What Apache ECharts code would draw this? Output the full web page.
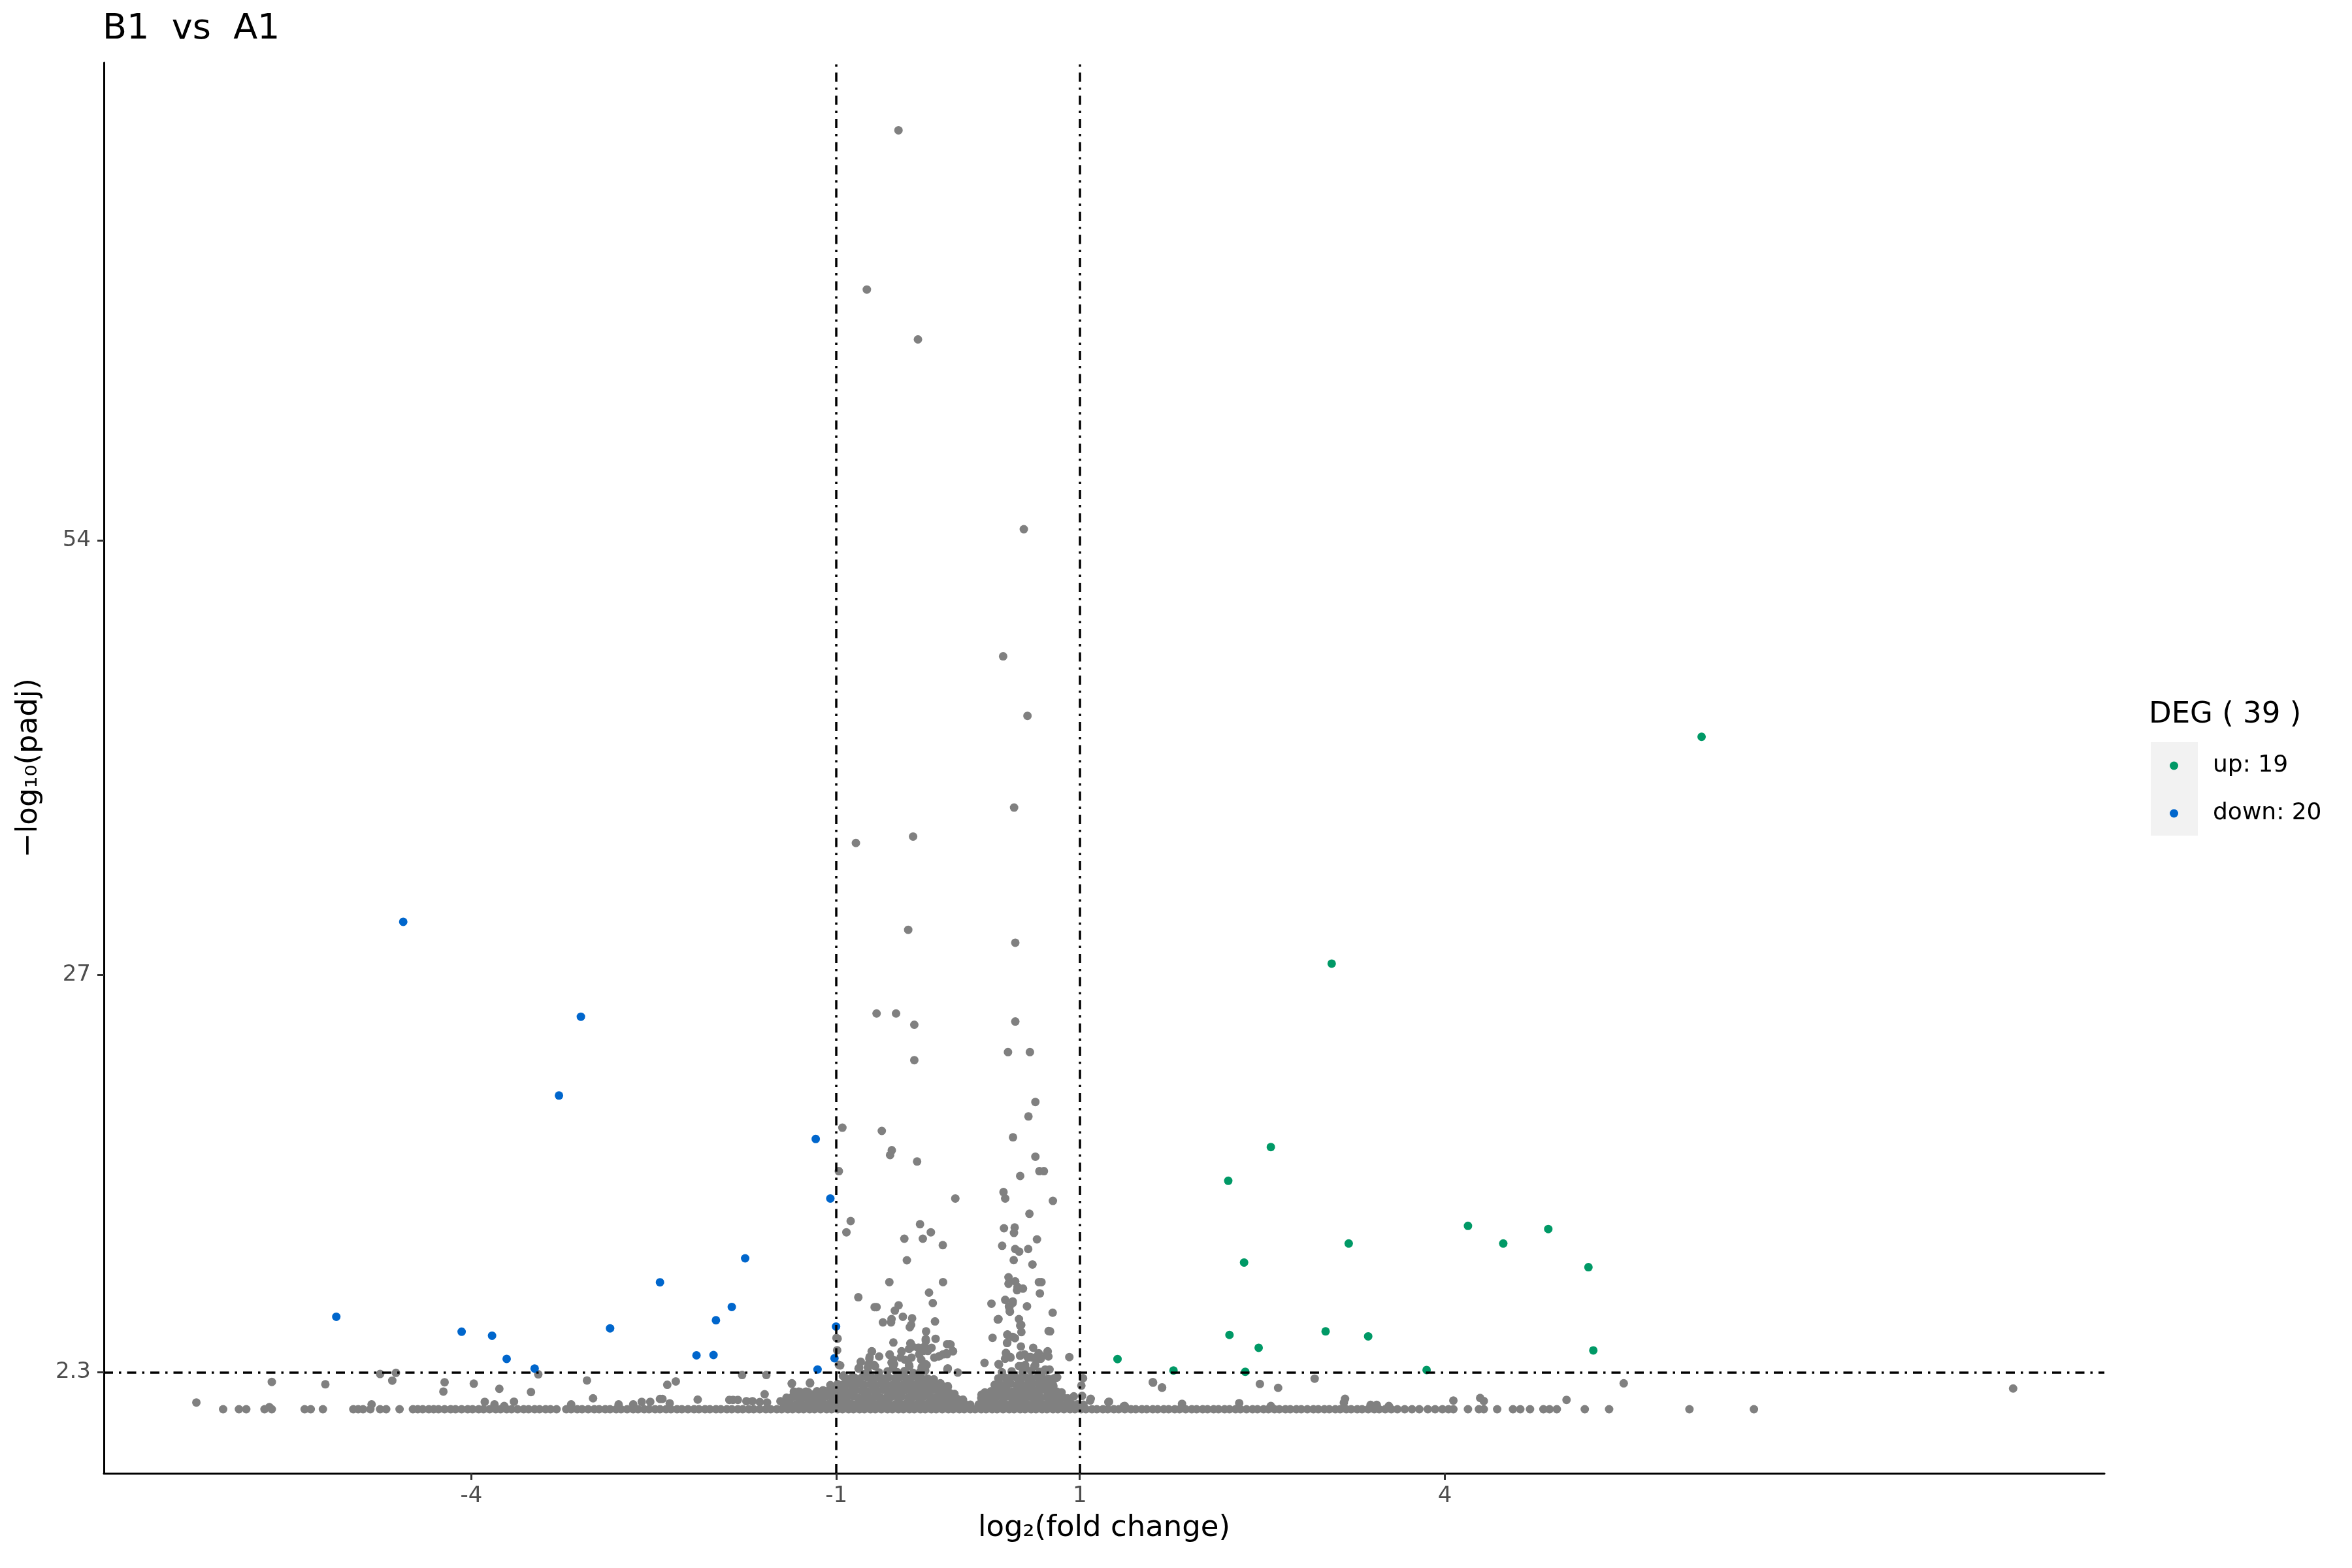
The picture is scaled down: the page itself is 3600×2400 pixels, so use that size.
<!DOCTYPE html>
<html>
<head>
<meta charset="utf-8">
<script src="https://cdn.jsdelivr.net/npm/echarts@6/dist/echarts.min.js"></script>
<style>html,body{margin:0;padding:0;background:#fff}#main{width:3600px;height:2400px}</style>
</head>
<body>
<div id="main"></div>
<script>
// ---------- DATA ----------
const titleText = 'B1  vs  A1';
const legendTitle = 'DEG ( 39 )';
const upName = 'up: 19';
const downName = 'down: 20';
const xTicks = [-4, -1, 1, 4];
const yTicks = [2.3, 27, 54];
const log2fcCut = [-1, 1];
const padjCut = 2.3;

// significantly up-regulated genes [log2FC, -log10(padj)]
const upPoints = [
  [6.11,41.8],[3.07,27.7],[2.57,16.3],[2.22,14.2],[4.19,11.4],[4.85,11.2],[4.48,10.3],
  [3.21,10.3],[2.35,9.12],[5.18,8.83],[2.23,4.62],[3.02,4.84],[3.37,4.53],[5.22,3.66],
  [2.47,3.82],[1.31,3.12],[1.77,2.41],[2.36,2.33],[3.85,2.44]
];
// significantly down-regulated genes
const downPoints = [
  [-4.56,30.3],[-3.10,24.4],[-3.28,19.5],[-1.17,16.8],[-1.05,13.1],[-1.75,9.38],[-2.45,7.89],
  [-5.11,5.75],[-1.86,6.36],[-1.99,5.53],[-4.08,4.82],[-3.83,4.57],[-2.86,5.03],[-1.003,5.14],
  [-3.71,3.13],[-2.15,3.35],[-2.01,3.37],[-3.48,2.53],[-1.155,2.47],[-1.016,3.17]
];
// not significant: genes with padj = 1 (-log10 = 0), log2FC values
const baseX = [
  -6.04,-5.91,-5.85,-5.70,-5.64,-5.37,-5.32,-5.22,-4.97,-4.93,-4.89,-4.83,-4.75,-4.70,-4.59,-4.48,-4.44,-4.40,-4.35,-4.31,-4.27,-4.22,
  -4.17,-4.13,-4.08,-4.03,-3.99,-3.94,-3.90,-3.85,-3.80,-3.76,-3.71,-3.67,-3.62,-3.57,-3.53,-3.48,-3.44,-3.39,-3.35,-3.30,-3.22,-3.18,
  -3.13,-3.09,-3.04,-2.99,-2.95,-2.90,-2.86,-2.81,-2.77,-2.72,-2.67,-2.63,-2.58,-2.54,-2.49,-2.45,-2.40,-2.36,-2.31,-2.27,-2.22,-2.17,
  -2.13,-2.08,-2.04,-1.99,-1.95,-1.90,-1.86,-1.81,-1.77,-1.72,-1.68,-1.63,-1.58,-1.54,-1.49,-1.45,-1.40,-1.36,-1.31,-1.27,-1.22,-1.18,
  -1.13,-1.08,-1.04,-0.99,-0.95,-0.90,-0.86,-0.81,-0.77,-0.72,-0.68,-0.63,-0.58,-0.54,-0.49,-0.45,-0.40,-0.36,-0.31,-0.27,-0.22,-0.18,
  -0.13,-0.08,-0.04,0.01,0.05,0.10,0.14,0.19,0.23,0.28,0.32,0.37,0.42,0.46,0.51,0.55,0.60,0.64,0.69,0.73,0.78,0.82,0.87,0.92,0.96,
  1.01,1.05,1.10,1.14,1.19,1.23,1.28,1.32,1.37,1.42,1.46,1.51,1.55,1.60,1.64,1.69,1.73,1.78,1.82,1.87,1.92,1.96,2.01,2.05,2.10,2.14,
  2.19,2.23,2.28,2.32,2.37,2.42,2.46,2.51,2.55,2.60,2.64,2.69,2.73,2.78,2.82,2.87,2.92,2.96,3.01,3.05,3.10,3.14,3.19,3.23,3.28,3.32,
  3.37,3.42,3.46,3.51,3.56,3.61,3.67,3.73,3.79,3.86,3.92,3.98,4.03,4.07,4.19,4.28,4.32,4.43,4.56,4.62,4.70,4.81,4.86,4.92,5.15,5.35,
  6.01,6.54
];
// not significant, low scattered points (left side)
const lowLeft = [
  [-6.26,0.42],[-5.66,0.13],[-5.64,1.70],[-5.20,1.55],[-4.82,0.3],[-4.75,2.19],[-4.62,2.26],[-4.65,1.78],[-4.23,1.1],[-4.22,1.68],
  [-3.98,1.59],[-3.89,0.46],[-3.77,1.27],[-3.65,0.47],[-3.51,1.07],[-3.45,2.17],[-3.81,0.3],[-3.73,0.2],[-3.05,1.79],[-3.0,0.68],
  [-3.18,0.3],[-2.79,0.3],[-2.67,0.3],[-2.60,0.46],[-2.53,0.46],[-2.45,0.64],[-2.43,0.64],[-2.37,0.37],[-2.39,1.52],[-2.32,1.73],
  [-2.14,0.6],[-1.88,0.58],[-1.85,0.58],[-1.81,0.58],[-1.775,2.13],[-1.74,0.5],[-1.69,0.5],[-1.63,0.45],[-1.57,0.42],[-1.576,2.13],
  [-1.59,0.93],[-1.46,0.5],[-1.366,1.61],[-1.217,1.65],[-1.35,1.1],[-1.31,1.1],[-1.36,0.77],[-1.25,1.1],[-1.24,0.77],[-1.26,0.77],
  [-1.20,0.9],[-1.16,0.57],[-1.08,1.04],[-1.04,1.25],[-1.0,1.38],[-0.98,1.25]
];
// not significant, low scattered points (right side)
const lowRight = [
  [0.81,1.96],[0.78,1.49],[1.09,0.65],[1.24,0.47],[1.37,0.2],[1.60,1.69],[1.676,1.36],[1.84,0.34],[2.31,0.38],[2.48,1.57],
  [2.63,1.33],[2.57,0.2],[2.93,1.90],[3.18,0.65],[3.17,0.41],[3.39,0.27],[3.44,0.27],[3.54,0.2],[4.07,0.54],[4.29,0.70],
  [4.32,0.51],[5.0,0.58],[5.47,1.61],[8.67,1.29]
];
// dense cloud of non-significant genes, log2FC < 0 side
const massLeft = [
  [-1.42,0.33],[-1.38,0.36],[-1.33,0.31],[-1.29,0.38],[-1.24,0.32],[-1.2,0.36],[-1.15,0.3],[-1.11,0.37],[-1.06,0.33],[-1.02,0.35],
  [-0.97,0.31],[-0.93,0.38],[-0.88,0.34],[-0.84,0.3],[-0.79,0.37],[-0.75,0.33],[-0.7,0.36],[-0.66,0.31],[-0.61,0.38],[-0.57,0.34],
  [-0.52,0.3],[-0.48,0.37],[-0.43,0.33],[-0.39,0.36],[-0.34,0.31],[-0.3,0.38],[-0.25,0.34],[-0.21,0.3],[-0.16,0.37],[-0.12,0.33],
  [-0.07,0.36],[-0.03,0.31],[0.02,0.35],[0.06,0.3],[0.1,0.28],
  [-1.41,0.72],[-1.36,0.78],[-1.31,0.74],[-1.27,0.8],[-1.22,0.71],[-1.18,0.77],[-1.13,0.73],[-1.09,0.79],[-1.04,0.75],[-1.0,0.72],
  [-0.95,0.78],[-0.91,0.74],[-0.86,0.8],[-0.82,0.71],[-0.77,0.77],[-0.73,0.73],[-0.68,0.79],[-0.64,0.75],[-0.59,0.72],[-0.55,0.78],
  [-0.5,0.74],[-0.46,0.8],[-0.41,0.71],[-0.37,0.77],[-0.32,0.73],[-0.28,0.79],[-0.23,0.75],[-0.19,0.72],[-0.14,0.78],[-0.1,0.74],
  [-0.05,0.7],[-0.01,0.66],[0.04,0.6],
  [-1.3,1.08],[-1.16,1.12],[-1.11,1.18],[-1.06,1.14],[-1.02,1.2],[-0.97,1.11],[-0.93,1.17],[-0.88,1.13],[-0.84,1.19],[-0.79,1.15],
  [-0.75,1.12],[-0.7,1.18],[-0.66,1.14],[-0.61,1.2],[-0.57,1.11],[-0.52,1.17],[-0.48,1.13],[-0.43,1.19],[-0.39,1.15],[-0.34,1.12],
  [-0.3,1.18],[-0.25,1.14],[-0.21,1.2],[-0.16,1.11],[-0.12,1.08],[-0.07,1.02],[-0.03,0.95],
  [-1.05,1.5],[-0.99,1.56],[-0.95,1.52],[-0.9,1.58],[-0.86,1.54],[-0.81,1.6],[-0.77,1.51],[-0.72,1.57],[-0.68,1.53],[-0.63,1.59],
  [-0.59,1.55],[-0.54,1.52],[-0.5,1.58],[-0.45,1.54],[-0.41,1.6],[-0.36,1.51],[-0.32,1.57],[-0.27,1.53],[-0.23,1.59],[-0.18,1.5],
  [-0.14,1.45],
  [-0.92,1.9],[-0.85,1.96],[-0.8,1.92],[-0.75,1.98],[-0.7,1.94],[-0.66,2.0],[-0.61,1.91],[-0.57,1.97],[-0.52,1.93],[-0.48,1.99],
  [-0.43,1.95],[-0.39,1.92],[-0.34,1.98],[-0.3,1.94],[-0.25,1.9],[-0.2,1.86],
  [-0.74,2.32],[-0.65,2.28],[-0.58,2.36],[-0.5,2.3],[-0.44,2.38],[-0.37,2.26],[-0.31,2.34],[-0.27,2.4]
];
// dense cloud of non-significant genes, log2FC > 0 side
const massRight = [
  [0.17,0.3],[0.21,0.36],[0.26,0.32],[0.3,0.38],[0.35,0.34],[0.39,0.31],[0.44,0.37],[0.48,0.33],[0.53,0.36],[0.57,0.31],
  [0.62,0.38],[0.66,0.34],[0.71,0.3],[0.75,0.37],[0.8,0.33],[0.84,0.36],[0.89,0.31],[0.93,0.35],[0.98,0.3],[1.03,0.28],
  [0.19,0.7],[0.23,0.76],[0.28,0.72],[0.32,0.78],[0.37,0.74],[0.41,0.8],[0.46,0.71],[0.5,0.77],[0.55,0.73],[0.59,0.79],
  [0.64,0.75],[0.68,0.72],[0.73,0.78],[0.77,0.74],[0.82,0.7],[0.86,0.76],[0.9,0.68],
  [0.22,1.05],[0.27,1.12],[0.31,1.18],[0.36,1.14],[0.4,1.2],[0.45,1.11],[0.49,1.17],[0.54,1.13],[0.58,1.19],[0.63,1.15],
  [0.67,1.12],[0.72,1.18],[0.76,1.14],[0.81,1.1],[0.85,1.05],
  [0.3,1.52],[0.34,1.58],[0.39,1.54],[0.43,1.6],[0.48,1.51],[0.52,1.57],[0.57,1.53],[0.61,1.59],[0.66,1.55],[0.7,1.52],[0.75,1.48],
  [0.33,1.92],[0.38,1.98],[0.42,1.94],[0.47,2.0],[0.51,1.91],[0.56,1.97],[0.6,1.93],[0.65,1.99],[0.69,1.95],[0.74,1.9],
  [0.36,2.3],[0.44,2.36],[0.53,2.28],[0.6,2.38],[0.67,2.32]
];
// non-significant points scattered above the cloud (|log2FC| < 1)
const grayMid = [
  [0.635,19.1],[0.578,18.2],[-0.951,17.5],[-0.627,17.3],[0.451,16.9],[-0.545,16.1],[-0.559,15.8],[-0.337,15.4],[0.635,15.7],
  [0.668,14.8],[0.705,14.8],[-0.98,14.8],[0.51,14.5],[0.373,13.5],[0.387,13.1],[-0.023,13.1],[0.779,12.95],[0.586,12.15],
  [-0.883,11.7],[-0.918,11.0],[-0.313,11.5],[-0.224,11.0],[-0.442,10.6],[-0.29,10.6],[-0.126,10.2],[0.377,11.25],[0.465,11.3],
  [0.459,10.96],[0.648,10.56],[0.362,10.16],[0.469,9.96],[0.502,9.8],[0.576,9.96],[-0.421,9.26],[0.457,9.27],[0.611,9.0],
  [-0.565,7.9],[-0.124,7.9],[0.414,8.2],[0.414,7.8],[0.469,7.95],[0.488,7.6],[0.484,7.4],[0.533,7.5],[0.664,7.9],[0.685,7.9],
  [0.672,7.2],[-0.239,7.25],[-0.82,6.96],[0.387,6.8],[0.449,6.7],[0.418,6.4],[0.424,6.1],[0.274,6.56],[0.566,6.4],[0.777,6.0],
  [-0.208,6.6],[-0.686,6.35],[-0.67,6.35],[-0.489,6.46],[-0.52,6.13],[-0.454,5.75],[-0.378,5.65],[-0.386,5.25],[-0.397,5.1],
  [-0.618,5.4],[-0.547,5.6],[-0.551,5.4],[-0.19,5.46],[0.332,5.6],[0.5,5.6],[0.51,5.2],[0.52,4.8],[0.744,4.86],[-0.263,4.84],
  [0.283,4.44],[0.406,4.65],[0.449,4.5],[0.467,4.42],[-0.185,4.38],[-0.532,4.15],[-0.99,4.39],[0.402,4.12],[-0.069,4.04],
  [-0.091,4.04],[0.516,3.9],[0.617,3.82],[-0.39,4.1],[-0.265,4.25],[-0.71,3.6],[-0.465,3.6],[-0.403,3.75],[-0.321,3.82],
  [-0.28,3.68],[-0.218,3.82],[-0.042,3.6],[-0.994,3.67],[0.914,3.24],[0.736,3.6],[0.726,3.37],[-0.727,3.25],[-0.649,3.28],
  [-0.563,3.37],[-0.153,3.3],[-0.091,3.42],[0.393,3.5],[0.428,3.25],[0.51,3.32],[0.592,3.25],[0.644,3.25],[0.217,2.88],
  [-0.8,2.95],[-0.969,2.72],[0.336,2.78],[0.5,2.68],[0.551,2.75],[0.634,2.75],[-0.813,2.58],[-0.742,2.61],[-0.69,2.75],
  [-0.547,2.9],[-0.536,2.54],[-0.403,2.75],[-0.3,2.61],[-0.259,2.75],[-0.085,2.54],[0.716,2.47],[-0.941,2.1],[-0.877,1.95],
  [-0.776,2.18],[-0.003,2.28],[1.027,1.93],[1.013,1.47],[0.808,1.97],[0.777,1.75],[0.783,1.43],[-0.146,1.61],[-0.085,1.44],
  [-1.367,1.58],[-1.217,1.61],[1.602,1.65],[1.676,1.33],[1.019,0.83],[0.951,0.8],[1.085,0.54],[1.235,0.44],[1.362,0.19],
  [-1.347,1.04],[-1.234,1.07],[-1.193,0.9],[-1.06,1.18],[-1.04,0.9],[0.192,0.9],
  [-0.392,4.09],[-0.374,3.89],[-0.266,4.36],[-0.276,3.89],[-0.062,4.02],[-0.33,3.82],[-0.285,3.62],[-0.464,3.59],[-0.562,3.41],
  [-0.708,3.59],[-0.729,3.14],[-0.738,2.8],[-0.683,2.67],[-0.818,2.53],[-0.535,3.08],[-0.526,2.8],[-0.473,3.21],[-0.437,3.08],
  [-0.401,2.67],[-0.383,3.21],[-0.32,3.41],[-0.303,3.08],[-0.267,2.8],[-0.249,3.62],[-0.196,3.21],[-0.16,3.28],[-0.124,3.41],
  [-0.097,3.48],[-0.044,3.62],[-0.088,2.47],[-0.946,2.06],[-1.0,4.43],[-0.98,2.76],
  [0.448,6.6],[0.421,6.33],[0.426,6.06],[0.326,5.58],[0.519,5.24],[0.756,4.84],[0.404,4.63],[0.404,4.13],[0.662,3.48],
  [0.733,3.55],[0.742,3.28],[0.395,3.48],[0.386,3.14],[0.431,3.21],[0.51,3.35],[0.546,3.41],[0.573,3.21],[0.609,3.21],
  [0.645,3.08],[0.68,3.14],[0.332,2.8],[0.519,2.67],[0.555,2.53],[0.627,2.67],[0.716,2.4],[0.751,2.47],[0.787,1.92],
  [0.814,1.99],[0.751,1.59],[-0.144,1.59],[-0.084,1.38]
];
// non-significant genes with very small padj but |log2FC| < 1
const grayHigh = [
  [-0.49,79.5],[-0.75,69.6],[-0.33,66.5],[0.54,54.7],[0.37,46.8],[0.57,43.1],[-0.84,35.2],[-0.37,35.6],[0.46,37.4],
  [-0.41,29.8],[0.47,29.0],[-0.67,24.6],[-0.51,24.6],[-0.36,23.9],[0.47,24.1],[-0.36,21.7],[0.41,22.2],[0.59,22.2]
];

// ---------- CHART ----------
const FONT = 'DejaVu Sans';
const grayPoints = baseX.map(x => [x, 0])
  .concat(lowLeft, lowRight, massLeft, massRight, grayMid, grayHigh);

const chart = echarts.init(document.getElementById('main'), null, {renderer: 'canvas'});
const option = {
  backgroundColor: '#ffffff',
  animation: false,
  title: [
    {text: titleText, left: 157, top: 18, padding: 0,
     textStyle: {fontFamily: FONT, fontSize: 54, fontWeight: 'normal', color: '#000'}},
    {text: legendTitle, left: 3289, top: 1072, padding: 0,
     textStyle: {fontFamily: FONT, fontSize: 45, fontWeight: 'normal', color: '#000'}}
  ],
  graphic: [
    {type: 'rect', left: 3292, top: 1136, shape: {width: 72, height: 143}, style: {fill: '#F2F2F2'}, z: 0, silent: true}
  ],
  legend: {
    orient: 'vertical', left: 3321, top: 1154, padding: 0,
    itemWidth: 13, itemHeight: 13, itemGap: 37, icon: 'circle', selectedMode: false,
    data: [upName, downName],
    textStyle: {fontFamily: FONT, fontSize: 36, lineHeight: 36, color: '#000', padding: [0, 0, 0, 48]}
  },
  grid: {left: 159, right: 379, top: 96, bottom: 145, containLabel: false},
  xAxis: {
    type: 'value', min: -7.02, max: 9.42,
    splitLine: {show: false},
    axisLine: {onZero: false, lineStyle: {color: '#000', width: 3}},
    axisTick: {customValues: xTicks, length: 10, lineStyle: {color: '#333', width: 3}},
    axisLabel: {customValues: xTicks, margin: 18, fontFamily: FONT, fontSize: 34, color: '#4D4D4D'},
    name: 'log₂(fold change)', nameLocation: 'middle', nameGap: 62,
    nameTextStyle: {fontFamily: FONT, fontSize: 45, color: '#000'}
  },
  yAxis: {
    type: 'value', min: -3.98, max: 83.7,
    splitLine: {show: false},
    axisLine: {onZero: false, lineStyle: {color: '#000', width: 3}},
    axisTick: {customValues: yTicks, length: 10, lineStyle: {color: '#333', width: 3}},
    axisLabel: {customValues: yTicks, margin: 20, fontFamily: FONT, fontSize: 34, color: '#4D4D4D'},
    name: '−log₁₀(padj)', nameLocation: 'middle', nameGap: 92, nameRotate: 90,
    nameTextStyle: {fontFamily: FONT, fontSize: 45, color: '#000'}
  },
  series: [
    {
      name: 'normal', type: 'scatter', data: grayPoints, symbolSize: 13,
      itemStyle: {color: '#808080', opacity: 1}, silent: true,
      markLine: {
        silent: true, symbol: 'none', label: {show: false}, animation: false,
        lineStyle: {color: '#000', width: 3.5, type: [14, 9, 3.5, 9]},
        emphasis: {disabled: true},
        data: [{xAxis: log2fcCut[0]}, {xAxis: log2fcCut[1]}, {yAxis: padjCut}]
      }
    },
    {name: upName, type: 'scatter', data: upPoints, symbolSize: 13, itemStyle: {color: '#009966', opacity: 1}, z: 3},
    {name: downName, type: 'scatter', data: downPoints, symbolSize: 13, itemStyle: {color: '#0066CC', opacity: 1}, z: 3}
  ]
};
chart.setOption(option);
</script>
</body>
</html>
